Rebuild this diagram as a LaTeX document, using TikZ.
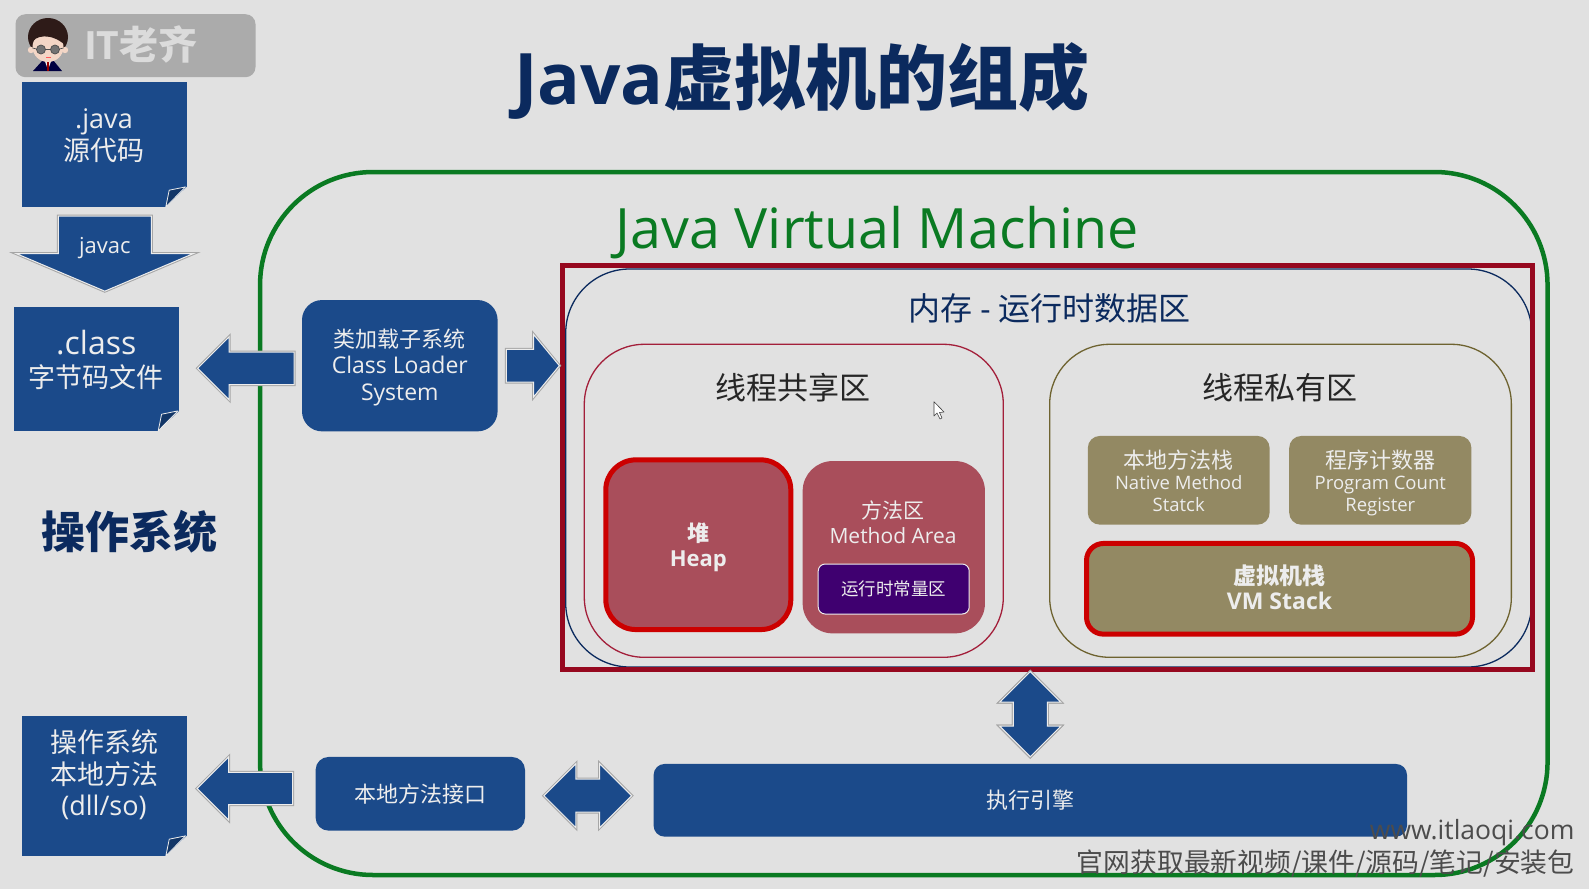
\documentclass[tikz,border=0pt]{standalone}
\usepackage{fontspec}
\setmainfont{Open Sans}
\newfontfamily\cjk{Noto Sans CJK SC}
\usetikzlibrary{shapes.arrows,calc}
\newcommand{\zh}[1]{{\cjk #1}}
\newcommand{\fsz}[2]{\fontsize{#1}{#2}\selectfont}
\definecolor{pagebg}{HTML}{E1E1E1}
\definecolor{blockblue}{HTML}{1B4A8A}
\definecolor{foldblue}{HTML}{123667}
\definecolor{titlenavy}{HTML}{0B2A5E}
\definecolor{jvmgreen}{HTML}{0A7A22}
\definecolor{framered}{HTML}{96081F}
\definecolor{sharedred}{HTML}{A31F3A}
\definecolor{rosefill}{HTML}{A94E5B}
\definecolor{hotred}{HTML}{CC0000}
\definecolor{olivefill}{HTML}{938963}
\definecolor{oliveline}{HTML}{6E6330}
\definecolor{constpurple}{HTML}{3F0070}
\definecolor{softwhite}{HTML}{EDEDED}
\definecolor{hairbrown}{HTML}{2E1B18}
\definecolor{skintone}{HTML}{F3D6C6}
\newcommand{\dogear}[1]{%
  \fill[pagebg] ($(#1.south east)+(-21,0)$) -- ($(#1.south east)+(0,-20)$) -- (#1.south east) -- cycle;
  \draw[fill=foldblue, draw=softwhite, line width=0.8pt, line join=round]
    ($(#1.south east)+(-21,0)$) -- ($(#1.south east)+(-17.6,-16.7)$) -- ($(#1.south east)+(-1.3,-20)$) -- cycle;
}
\begin{document}
\begin{tikzpicture}
  [x=1pt, y=-1pt,
    bluebox/.style={
      rectangle, rounded corners=#1, fill=blockblue, text=softwhite, align=center, inner sep=0pt
    },
    docbox/.style={
      rectangle, fill=blockblue, text=softwhite, align=center, inner sep=0pt
    },
    rosebox/.style={
      rectangle, rounded corners=30pt, fill=rosefill, text=softwhite, align=center, inner sep=0pt
    },
    olivebox/.style={
      rectangle, rounded corners=#1, fill=olivefill, text=softwhite, align=center, inner sep=0pt
    },
    zonebox/.style={
      rectangle, rounded corners=60pt, line width=1.3pt, inner sep=0pt
    },
    arrowedge/.style={
      fill=blockblue, draw=softwhite, line width=1pt, inner xsep=0pt, inner ysep=#1, line join=miter,
      preaction={draw=black!35, line width=3pt}
    },
    leftarrow/.style={
      shape=single arrow, arrowedge=15.7pt, shape border rotate=180, anchor=tip,
      single arrow tip angle=90, single arrow head extend=15.3pt
    },
    bothways/.style={
      shape=double arrow, arrowedge=16pt, double arrow tip angle=90, double arrow head extend=15.5pt
    },
  ]
  \path[fill=pagebg] (0,0) rectangle (1589,889);

  % Badge in the corner
  \node[rectangle, rounded corners=10pt, fill=black!33, minimum width=240pt, minimum height=63pt] (badge) at (135.5,45.7) {};
  \node[text=black!14, font=\bfseries\fsz{39}{39}, anchor=west] (badgetext) at (80.5,44.5) {IT\zh{老齐}};
  \fill[black!75!blue] (33,71) -- (43,60) -- (53,60) -- (62,71) -- cycle;
  \fill[softwhite] (44.5,60) -- (51.5,60) -- (48,70) -- cycle;
  \fill[red!60!black] (47,62) rectangle (49,71);
  \fill[hairbrown] (48,37) ellipse (20pt and 19pt);
  \fill[skintone] (31,50) circle (3.2pt);
  \fill[skintone] (65,50) circle (3.2pt);
  \fill[skintone] (48,47) ellipse (15.5pt and 15pt);
  \fill[hairbrown] (31,45) .. controls (34,34) and (52,33) .. (65,45) -- (64,28) -- (32,28) -- cycle;
  \draw[black!70, line width=0.7pt, fill=black!55] (41,49.5) circle (4.5pt);
  \draw[black!70, line width=0.7pt, fill=black!55] (55,49.5) circle (4.5pt);
  \draw[black!70, line width=0.7pt] (45.5,49.5) -- (50.5,49.5) (36.5,49) -- (32.5,48) (59.5,49) -- (63.5,48);
  \fill[red!65] (45.5,57) rectangle (50.5,58.3);

  % Title
  \node[text=titlenavy, font=\bfseries\fsz{71}{71}] (title) at (802,81) {Java\zh{虚拟机的组成}};
  \node[text=titlenavy, font=\bfseries\fsz{44}{44}] (ostitle) at (129,532) {\zh{操作系统}};

  % Java Virtual Machine frame
  \node[rectangle, rounded corners=113pt, draw=jvmgreen, line width=4.5pt, minimum width=1287.5pt, minimum height=703pt] (jvm) at (903.8,523.5) {};
  \node[text=jvmgreen, font=\fsz{55.6}{55.6}] (jvmtitle) at (877.5,233) {Java Virtual Machine};

  % Memory area
  \node[zonebox, rounded corners=64pt, draw=titlenavy, minimum width=966pt, minimum height=398pt] (memory) at (1048.7,468) {};
  \node[rectangle, draw=framered, line width=5pt, minimum width=970.5pt, minimum height=403.5pt] (redframe) at (1047.7,467.3) {};
  \node[text=titlenavy, font=\fsz{32}{32}] (memorytitle) at (1049.5,308) {\zh{内存} - \zh{运行时数据区}};

  % Shared and private zones
  \node[zonebox, draw=sharedred, minimum width=419pt, minimum height=313pt] (shared) at (793.8,500.8) {};
  \node[zonebox, draw=oliveline, minimum width=461.7pt, minimum height=313pt] (private) at (1280.5,500.8) {};
  \node[text=black!85, font=\fsz{31}{31}] (sharedtitle) at (793,387.5) {\zh{线程共享区}};
  \node[text=black!85, font=\fsz{31}{31}] (privatetitle) at (1279.5,387.5) {\zh{线程私有区}};

  % Shared zone content
  \node[rosebox, draw=hotred, line width=5pt, minimum width=185pt, minimum height=169.7pt] (heap) at (698.3,544.7) {};
  \node[text=softwhite, align=center, font=\bfseries\fsz{22}{25}] (heaptext) at (698.3,547.7) {\zh{堆}\\Heap};
  \node[rosebox, minimum width=182.3pt, minimum height=172.3pt] (method) at (893.8,547.2) {};
  \node[text=softwhite, align=center, font=\fsz{21}{25}] (methodtext) at (893,522) {\zh{方法区}\\Method Area};
  \node[rectangle, rounded corners=7pt, fill=constpurple, draw=softwhite, line width=1pt, text=softwhite, minimum width=151pt, minimum height=50pt, font=\fsz{17.5}{20}] (constpool) at (893.7,589) {\zh{运行时常量区}};

  % Private zone content
  \node[olivebox=12pt, minimum width=181.8pt, minimum height=88.7pt] (nativestack) at (1178.7,480.3) {};
  \node[text=softwhite, align=center, font=\fsz{18.5}{21.5}] (nativetext) at (1178.7,483.5) {{\fsz{22}{23}\zh{本地方法栈}}\\Native Method\\Statck\strut};
  \node[olivebox=12pt, minimum width=182.2pt, minimum height=88.7pt] (programcount) at (1380.3,480.3) {};
  \node[text=softwhite, align=center, font=\fsz{18.5}{21.5}] (programtext) at (1380.3,483.5) {{\fsz{22}{23}\zh{程序计数器}}\\Program Count\\Register\strut};
  \node[olivebox=17pt, draw=hotred, line width=5pt, minimum width=386pt, minimum height=90.7pt] (vmstack) at (1279.5,588.8) {};
  \node[text=softwhite, align=center, font=\bfseries\fsz{23}{25}] (vmstacktext) at (1279.5,587.3) {\zh{虚拟机栈}\\VM Stack};

  % Mouse pointer
  \draw[fill=white, draw=black!75, line width=0.6pt, line join=round] (934,401.7) -- (934,416) -- (937,413) -- (940,419) -- (942,418) -- (939.5,412.5) -- (944,412) -- cycle;

  % Files on the left
  \node[docbox, minimum width=164.6pt, minimum height=124.4pt] (javasrc) at (104.3,144.5) {};
  \node[text=softwhite, align=center, font=\fsz{27}{32}] (javasrctext) at (104,135.5) {.java\\\zh{源代码}};
  \node[docbox, minimum width=165pt, minimum height=124pt] (classfile) at (96.5,368.7) {};
  \node[text=softwhite, align=center, font=\fsz{27}{33}] (classfiletext) at (96.3,360) {{\fsz{32}{33}.class}\\\zh{字节码文件}};
  \node[docbox, minimum width=164.7pt, minimum height=139.7pt] (osnative) at (104.3,785.8) {};
  \node[text=softwhite, align=center, font=\fsz{27}{31.7}] (osnativetext) at (104,775) {\zh{操作系统}\\\zh{本地方法}\\(dll/so)};
  \dogear{javasrc}
  \dogear{classfile}
  \dogear{osnative}

  % Blue boxes
  \node[bluebox=20pt, minimum width=195.6pt, minimum height=131.3pt] (loader) at (399.8,365.7) {};
  \node[text=softwhite, align=center, font=\fsz{23}{26.5}] (loadertext) at (399.8,367) {{\fsz{22}{26.5}\zh{类加载子系统}}\\Class Loader\\System};
  \node[bluebox=13pt, minimum width=209.4pt, minimum height=73.7pt, font=\fsz{22}{22}] (nativeif) at (420.3,793.8) {\zh{本地方法接口}};
  \node[bluebox=11pt, minimum width=753.4pt, minimum height=72.7pt, font=\fsz{22}{22}] (engine) at (1030.3,800.3) {\zh{执行引擎}};

  % Block arrows between the parts
  \node[shape=single arrow, arrowedge=0pt, inner xsep=46pt, shape border rotate=270, anchor=tip, single arrow tip angle=134, single arrow head extend=42pt, minimum height=75pt] (javacarrow) at (104.8,291.7) {};
  \node[text=softwhite, font=\fsz{22}{22}] (javactext) at (104.8,248) {javac};
  \node[leftarrow, minimum height=96.4pt] (toclass) at (197,368.3) {};
  \node[leftarrow, minimum height=95.6pt] (toos) at (196.4,788.5) {};
  \node[shape=single arrow, arrowedge=15.8pt, anchor=tip, single arrow tip angle=101, single arrow head extend=15pt, minimum height=53pt] (tomemory) at (560,365.7) {};
  \node[bothways, minimum height=87.7pt] (ifengine) at (587.8,795.7) {};
  \node[bothways, arrowedge=0pt, inner xsep=16.5pt, double arrow head extend=13.5pt, shape border rotate=90, minimum height=85pt] (memengine) at (1030.3,714.2) {};

  % Site notice
  \node[text=black!70, font=\fsz{26.5}{26.5}, anchor=east] (website) at (1578,833) {www.itlaoqi.com};
  \node[text=black!70, font=\fsz{26.8}{26.8}, anchor=east] (notice) at (1578,864) {\zh{官网获取最新视频/课件/源码/笔记/安装包}};
\end{tikzpicture}
\end{document}
